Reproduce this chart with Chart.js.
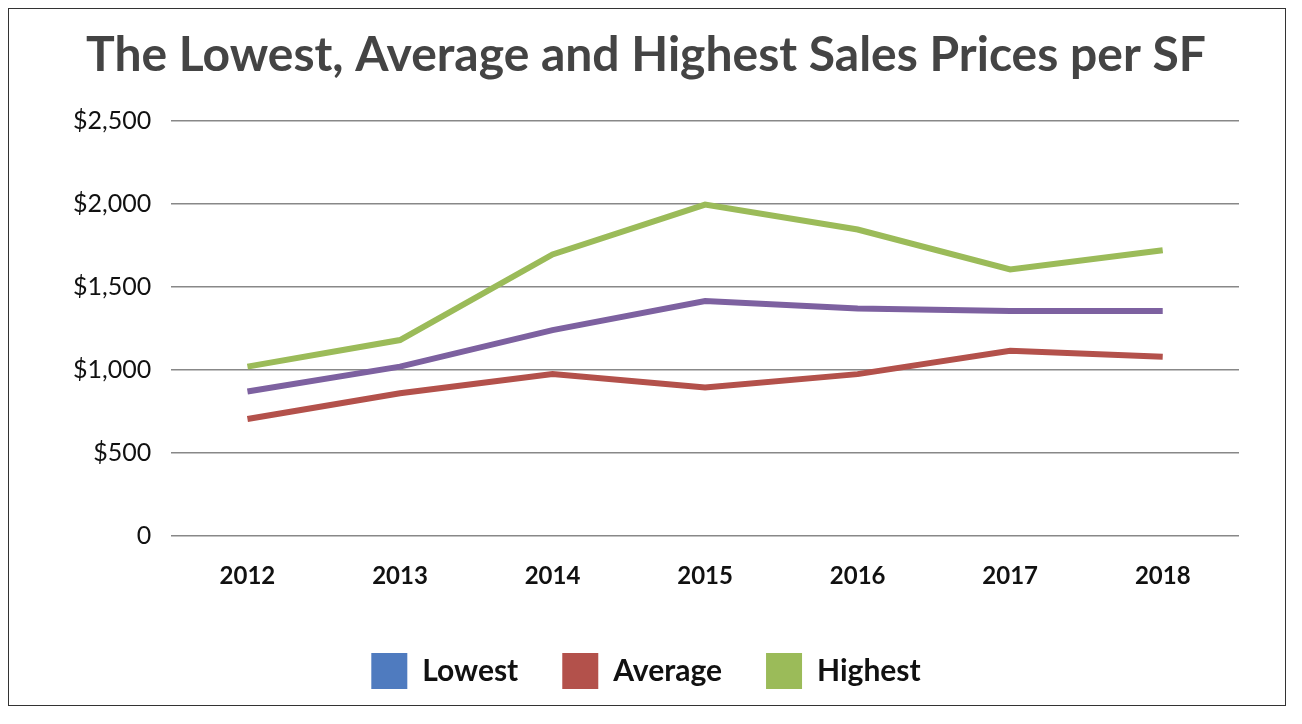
<!DOCTYPE html>
<html><head><meta charset="utf-8">
<script src="https://cdn.jsdelivr.net/npm/chart.js@4"></script>
<style>
body{margin:0;background:#fff;}
#box{position:absolute;left:8px;top:8px;width:1276px;height:696px;border:1.5px solid #333;}
canvas{display:block;}
</style></head><body>
<div id="box"><canvas id="c" width="1276" height="696"></canvas></div>
<script>
const years = ["2012","2013","2014","2015","2016","2017","2018"];
const lowest  = [870, 1020, 1240, 1415, 1370, 1355, 1355];
const average = [705, 860, 975, 895, 975, 1115, 1080];
const highest = [1020, 1180, 1695, 1995, 1845, 1605, 1720];

function money(v){ return v === 0 ? "0" : "$" + v.toLocaleString("en-US"); }

new Chart(document.getElementById("c"), {
  type: "line",
  data: {
    labels: years,
    datasets: [
      { label:"Lowest", data:lowest, borderColor:"#7d61a0", backgroundColor:"#4f7bbf" },
      { label:"Average", data:average, borderColor:"#b3514b", backgroundColor:"#b3514b" },
      { label:"Highest", data:highest, borderColor:"#9bbb59", backgroundColor:"#9bbb59" }
    ]
  },
  options: {
    responsive:false, animation:false,
    elements:{ line:{ borderWidth:6, tension:0 }, point:{ radius:0 } },
    layout:{ padding:{ left:44, right:46, top:0, bottom:6 } },
    scales:{
      x:{ offset:true, grid:{ display:false }, border:{ display:false },
          ticks:{ color:"#111", font:{ family:"Lato", size:24, weight:"bold" }, padding:18 } },
      y:{ min:0, max:2500,
          grid:{ color:"#888", lineWidth:1.5, drawTicks:false }, border:{ display:false },
          ticks:{ stepSize:500, color:"#111", padding:20, font:{ family:"Lato", size:25 }, callback:v=>money(v) } }
    },
    plugins:{
      title:{ display:true, text:"The Lowest, Average and Highest Sales Prices per SF",
              color:"#444", font:{ family:"Lato", size:48, weight:"bold" }, padding:{ top:18, bottom:36 } },
      legend:{ position:"bottom",
               labels:{ boxWidth:36, boxHeight:36, padding:44, color:"#111",
                        font:{ family:"Lato", size:30, weight:"bold" },
                        generateLabels: chart => chart.data.datasets.map((d,i)=>({
                          text:d.label, fillStyle:d.backgroundColor, strokeStyle:d.backgroundColor,
                          lineWidth:0, datasetIndex:i, fontColor:"#111" })) } }
    }
  }
});
</script>
</body></html>
